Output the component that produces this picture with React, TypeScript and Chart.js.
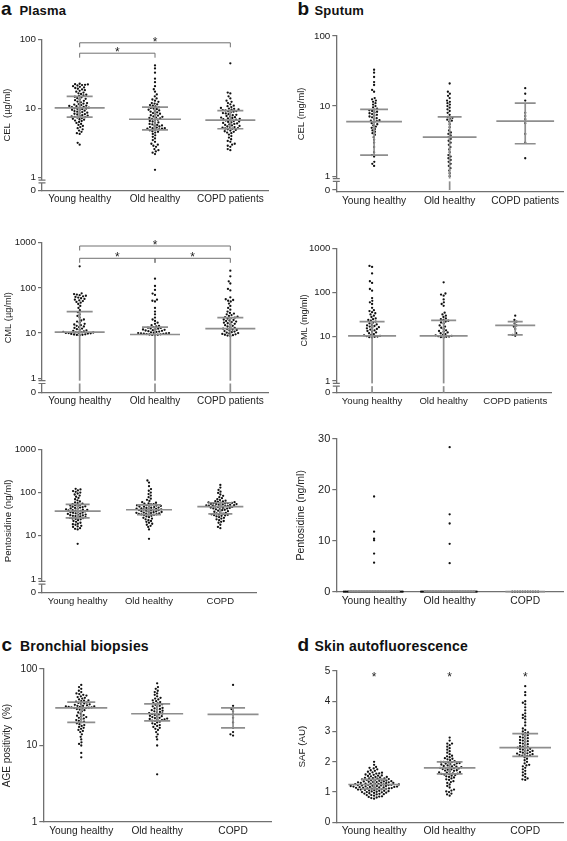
import React, { useEffect, useRef } from "react";
import { Chart, registerables } from "chart.js";

Chart.register(...registerables);

const FONT = '"Liberation Sans", Arial, Helvetica, sans-serif';
const AXIS = "#707070";
const BAR = "#8e8e8e";
const DOT = "#111111";
const TXT = "#222222";

// ---------- categories ----------
const groupsLong = ["Young healthy", "Old healthy", "COPD patients"];
const groupsShort = ["Young healthy", "Old healthy", "COPD"];

// ---------- a: Plasma CEL (µg/ml) ----------
const plasmaCelYoung = [22.8, 22.5, 22.3, 22, 21.8, 21.5, 21, 20.6, 20.2, 19.8, 19.3, 18.9, 18.4, 18, 17.5, 17, 16.6, 16.2, 15.8, 15.5, 15.2,
  14.8, 14.5, 14.1, 13.8, 13.5, 13.2, 12.9, 12.6, 12.3, 12, 11.8, 11.6, 11.4, 11.2, 11, 10.9, 10.8, 10.6, 10.5, 10.4, 10.3,
  10.1, 10, 9.9, 9.8, 9.6, 9.5, 9.3, 9.2, 9, 8.9, 8.7, 8.6, 8.4, 8.3, 8.2, 8, 7.9, 7.8, 7.7, 7.6, 7.5,
  7.4, 7.3, 7.1, 7, 6.9, 6.7, 6.6, 6.4, 6.2, 6, 5.8, 5.6, 5.4, 5.2, 5, 4.8, 4.6, 4.4, 4.3, 3.2, 3.0];
const plasmaCelOld = [42, 38, 33, 27, 24, 21, 19, 17.5, 16, 15, 14, 13.5, 13, 12.5, 12, 11.8, 11.5, 11.2, 11, 10.7,
  10.4, 10.2, 10, 9.8, 9.6, 9.4, 9.2, 9, 8.8, 8.6, 8.4, 8.2, 8, 7.9, 7.7, 7.6, 7.4, 7.3, 7.2, 7.1,
  6.9, 6.8, 6.6, 6.5, 6.3, 6.2, 6, 5.9, 5.8, 5.7, 5.6, 5.5, 5.4, 5.3, 5.2, 5.2, 5.1, 5.1, 5, 4.95,
  4.85, 4.7, 4.6, 4.5, 4.3, 4.1, 3.9, 3.7, 3.5, 3.3, 3.1, 3, 2.9, 2.8, 2.6, 2.5, 2.4, 2.3, 2.2, 1.3];
const plasmaCelCopd = [45, 17, 16.5, 15, 14, 13, 12.5, 12, 11.5, 11, 10.8, 10.5, 10.2, 10, 9.9, 9.7, 9.6, 9.5, 9.4,
  9.2, 9.1, 9, 8.8, 8.6, 8.5, 8.3, 8.1, 8, 7.8, 7.7, 7.5, 7.4, 7.3, 7.2, 7.1, 7, 6.9, 6.85,
  6.7, 6.6, 6.5, 6.4, 6.3, 6.2, 6.1, 6, 5.9, 5.8, 5.7, 5.6, 5.5, 5.4, 5.35, 5.3, 5.2, 5.15, 5.1,
  5, 4.9, 4.8, 4.7, 4.6, 4.5, 4.4, 4.2, 4, 3.8, 3.6, 3.4, 3.3, 3.1, 3, 2.9, 2.8, 2.6, 2.5];
const plasmaCelMedian = [10.2, 7.0, 6.8];
const plasmaCelQ1 = [7.5, 4.9, 5.1];
const plasmaCelQ3 = [15, 10.5, 9.3];
const plasmaCelTicks = [0, 1, 10, 100];
const plasmaCelBrackets = [{ from: 0, to: 2, y: 89 }, { from: 0, to: 1, y: 63 }];

// ---------- a: Plasma CML (µg/ml) ----------
const plasmaCmlYoung = [300, 76, 73, 71, 69, 67, 65, 63, 61, 59, 57, 55, 53, 51, 49, 47, 44, 40, 36, 32,
  29, 26, 24, 22, 20, 19, 18, 17, 16, 15.5, 15, 14.5, 14, 13.5, 13, 12.6, 12.2, 11.8, 11.5, 11.2, 10.9, 10.6,
  10.5, 10.4, 10.3, 10.2, 10.1, 10, 9.9, 9.8, 9.6, 9.4, 9.3, 9.2, 9.1, 9.0];
const plasmaCmlOld = [160, 110, 90, 75, 70, 55, 52, 50, 36, 30, 26, 22, 20, 18.5, 17, 16, 15, 14.5, 14, 13.5,
  13.2, 13, 12.7, 12.5, 12.2, 12, 11.8, 11.6, 11.4, 11.2, 11, 10.8, 10.6, 10.4, 10.2, 10, 10, 9.9, 9.8, 9.7,
  9.6, 9.5, 9.4, 9.3, 9.2, 9.1, 9];
const plasmaCmlCopd = [240, 180, 140, 125, 95, 88, 62, 56, 54, 52, 50, 45, 40, 36, 33, 30, 28, 27, 26, 25, 24, 23,
  22.5, 22, 21.5, 21, 20, 19.5, 19, 18.5, 18, 17.5, 17, 16.5, 16, 15.5, 15, 14.5, 14, 13.5, 13, 12.5, 12.2, 12,
  11.7, 11.4, 11.1, 10.8, 10.5, 10.2, 10, 9.8, 9.6, 9.4, 9.2, 9, 8.8, 8.6];
const plasmaCmlMedian = [10.5, 9.3, 12.5];
const plasmaCmlQ1 = [0, 0, 0];
const plasmaCmlQ3 = [30, 13.5, 22];
const plasmaCmlTicks = [0, 1, 10, 100, 1000];
const plasmaCmlBrackets = [{ from: 0, to: 2, y: 845 }, { from: 0, to: 1, y: 452 }, { from: 1, to: 2, y: 452 }];

// ---------- a: Plasma pentosidine (ng/ml) ----------
const plasmaPentYoung = [122, 118, 112, 108, 104, 100, 95, 90, 85, 80, 75, 70, 66, 62, 59, 57, 55, 54,
  52, 51, 50, 49, 48, 47, 46, 45, 44, 43, 42, 41, 40, 39.5, 39, 38.5, 38, 37.5,
  36.5, 36, 35, 34.5, 34, 33, 32.5, 32, 31, 30.5, 30, 29.5, 29, 28.5, 28, 27, 26.5, 26,
  25.5, 25, 24.5, 24, 23, 22, 21, 20, 19, 18.5, 18, 17, 16.5, 16, 15, 14.5, 14, 6.5];
const plasmaPentOld = [190, 170, 140, 120, 110, 100, 92, 85, 78, 72, 68, 64, 60, 58, 56, 55, 54, 53,
  51, 50.5, 50, 49, 48, 47.5, 47, 46, 45, 44.5, 44, 43, 42.5, 42, 41.5, 41, 40.5, 40.2,
  39.5, 39, 38.5, 38, 37, 36.5, 36, 35.5, 35, 34.5, 34, 33.5, 33, 32.5, 32, 31.5, 31.2, 31,
  30.5, 30, 29, 28, 27, 26, 25, 24, 23, 22, 21, 20, 19, 18, 17, 16, 14, 8.5];
const plasmaPentCopd = [150, 130, 115, 105, 98, 90, 84, 78, 74, 70, 67, 65, 63, 62, 61, 60, 59, 58.5,
  57.5, 57, 56.5, 56, 55, 54.5, 54, 53, 52.5, 52, 51, 50.5, 50, 49.5, 49, 48.5, 48, 47.5,
  46.5, 46, 45, 44.5, 44, 43, 42.5, 42, 41, 40, 39, 38, 37, 36, 35, 34, 33, 32.5,
  31.5, 31, 30.5, 30, 29.5, 29, 28, 27, 26, 25, 24, 23, 22, 21, 20, 18, 16, 15];
const plasmaPentMedian = [37, 40, 47];
const plasmaPentQ1 = [26, 31, 32];
const plasmaPentQ3 = [53, 52, 58];
const plasmaPentTicks = [0, 1, 10, 100, 1000];

// ---------- b: Sputum CEL (mg/ml) ----------
const sputumCelYoung = [33, 30, 26, 22, 20, 17, 16, 13, 12.5, 12, 11.5, 11, 10.5, 10, 9.6, 9.2,
  8.9, 8.7, 8.5, 8.3, 8.1, 7.9, 7.7, 7.5, 7.3, 7.1, 6.9, 6.7, 6.5, 6.3, 6.2, 6.1,
  5.9, 5.7, 5.5, 5.3, 5.1, 4.9, 4.7, 4.5, 4.3, 4.1, 3.9, 3.6, 3.3, 3, 2.6, 2.2,
  2.0, 1.9, 1.6, 1.5, 1.4];
const sputumCelOld = [21, 16, 15, 14, 13, 12, 11.5, 11, 10.5, 10, 9.5, 9, 8.5, 8, 7.5, 7, 6.8, 6.6, 6.4, 6.2, 6,
  5.5, 5, 4.5, 4.2, 4, 3.8, 3.6, 3.4, 3.2, 3, 2.8, 2.6, 2.4, 2.2, 2, 1.9, 1.8, 1.7, 1.6, 1.5, 1.4, 1.3, 1.2, 1.1, 1.0];
const sputumCelCopd = [18, 15, 12, 8, 7.2, 6.5, 5.7, 4, 3, 1.8];
const sputumCelMedian = [6, 3.6, 6.1];
const sputumCelQ1 = [2, 0, 2.9];
const sputumCelQ3 = [9, 7, 11];
const sputumCelTicks = [0, 1, 10, 100];

// ---------- b: Sputum CML (mg/ml) ----------
const sputumCmlYoung = [400, 380, 270, 180, 165, 120, 110, 75, 65, 60, 55, 45, 40, 38, 36, 34, 32, 30, 28, 26, 25,
  24, 23, 22, 21, 20, 19, 18.5, 18, 17.5, 17, 16.5, 16, 15.5, 15, 14.5, 14, 13.5, 13, 12.5, 12, 11.5, 11,
  10.8, 10.5, 10.3, 10.1, 10, 9.8, 9.6];
const sputumCmlOld = [170, 95, 90, 85, 70, 60, 55, 50, 35, 32, 30, 28, 26, 25, 24, 23, 22, 21, 20, 18, 17, 16, 15,
  14, 13.5, 13, 12.5, 12, 11.5, 11, 10.8, 10.5, 10.3, 10.1, 10, 9.8, 9.6];
const sputumCmlCopd = [30, 24, 22, 20, 18, 17, 15, 12, 11, 10.5];
const sputumCmlMedian = [10.5, 10.5, 18];
const sputumCmlQ1 = [0, 0, 11];
const sputumCmlQ3 = [22, 23.5, 22];
const sputumCmlTicks = [0, 1, 10, 100, 1000];

// ---------- b: Sputum pentosidine (ng/ml) ----------
const sputumPentYoung = [18.7, 11.8, 10.4, 10.1, 7.5, 5.7,
  0, 0, 0, 0, 0, 0, 0, 0, 0, 0, 0, 0, 0, 0, 0, 0, 0, 0, 0, 0, 0, 0, 0, 0, 0, 0, 0, 0, 0, 0, 0, 0, 0, 0, 0, 0, 0, 0];
const sputumPentOld = [28.4, 15.2, 13.4, 9.4, 5.6,
  0, 0, 0, 0, 0, 0, 0, 0, 0, 0, 0, 0, 0, 0, 0, 0, 0, 0, 0, 0, 0, 0, 0, 0, 0, 0, 0, 0, 0, 0, 0, 0, 0, 0, 0, 0];
const sputumPentCopd = [0, 0, 0, 0, 0, 0, 0, 0, 0, 0, 0];
const sputumPentMedian = [0, 0, 0];
const sputumPentQ1 = [0, 0, 0];
const sputumPentQ3 = [0, 0, 0];
const sputumPentTicks = [0, 10, 20, 30];

// ---------- c: Bronchial biopsies AGE positivity (%) ----------
const biopsyYoung = [62, 58, 55, 52, 50, 48, 47, 46, 45, 44, 43, 42, 41, 40, 39, 38.5, 38, 37.5,
  36.5, 36, 35.5, 35, 34.5, 34, 33.5, 33, 33, 32.5, 32.5, 32, 32, 31.5, 31.5, 31.2, 31, 31,
  30.5, 30, 29.5, 29, 28, 27, 26, 25, 24.5, 24, 23.5, 23, 22.5, 22, 21.5, 21, 20.5, 20.2,
  19.5, 19, 18.5, 18, 17.5, 17, 16.5, 16, 15.5, 15, 14, 13, 12, 11, 10.5, 10, 8, 7];
const biopsyOld = [65, 58, 55, 52, 50, 48, 46, 44, 42, 41, 40, 39, 38, 37, 36, 35.5,
  34.5, 34, 33, 32.5, 32, 31, 30.5, 30, 29.5, 29, 28.5, 28, 27.5, 27, 26.5, 26.2,
  25.8, 25.5, 25, 24.5, 24.2, 24, 23.5, 23, 22.8, 22.5, 22.2, 22, 21.8, 21.5, 21.2, 21,
  20.5, 20, 19.5, 19, 18.5, 18, 17.5, 17, 16.5, 16, 15, 14, 13, 12, 10, 4.2];
const biopsyCopd = [62, 33, 30, 28, 25.5, 23, 20, 17, 15, 14, 13.5];
const biopsyMedian = [31, 26, 25.5];
const biopsyQ1 = [20, 21, 17];
const biopsyQ3 = [37, 35, 31];
const biopsyTicks = [1, 10, 100];

// ---------- d: Skin autofluorescence SAF (AU) ----------
const safYoung = [0.78, 0.8, 0.82, 0.84, 0.85, 0.86, 0.88, 0.9, 0.9, 0.92, 0.93, 0.94, 0.95,
  0.96, 0.97, 0.98, 0.99, 1.0, 1.0, 1.01, 1.02, 1.03, 1.04, 1.04, 1.05,
  1.06, 1.07, 1.08, 1.08, 1.09, 1.1, 1.1, 1.11, 1.12, 1.12, 1.13, 1.14, 1.14, 1.15, 1.15, 1.15,
  1.16, 1.17, 1.17, 1.18, 1.18, 1.19, 1.2, 1.2, 1.2, 1.21, 1.22, 1.22, 1.23, 1.23, 1.24, 1.24, 1.25, 1.25,
  1.26, 1.26, 1.27, 1.28, 1.28, 1.29, 1.3, 1.3, 1.31, 1.32, 1.32, 1.33, 1.33, 1.34, 1.35, 1.35,
  1.36, 1.37, 1.38, 1.39, 1.4, 1.4, 1.41, 1.42, 1.43, 1.44, 1.45, 1.45,
  1.46, 1.47, 1.48, 1.5, 1.5, 1.52, 1.53, 1.54, 1.55, 1.57, 1.58, 1.6, 1.61, 1.62, 1.64, 1.65,
  1.67, 1.7, 1.72, 1.75, 1.78, 1.8, 1.83, 1.9, 2.0];
const safOld = [0.88, 0.92, 0.95, 1.0, 1.02, 1.05, 1.08,
  1.15, 1.2, 1.25, 1.3, 1.33, 1.36, 1.4, 1.42, 1.45, 1.48, 1.5, 1.52, 1.54, 1.56, 1.58, 1.59,
  1.6, 1.61, 1.62, 1.64, 1.65, 1.66, 1.68, 1.7, 1.71, 1.72, 1.74, 1.75, 1.76, 1.78, 1.79, 1.8, 1.8,
  1.81, 1.82, 1.84, 1.85, 1.86, 1.88, 1.9, 1.91, 1.92, 1.94, 1.95, 1.96, 1.98, 1.99, 2.0, 2.0,
  2.02, 2.05, 2.08, 2.1, 2.12, 2.15, 2.18, 2.2, 2.25, 2.3, 2.35, 2.4, 2.45, 2.5, 2.55, 2.6, 2.6, 2.7, 2.8];
const safCopd = [4.5, 4.3, 4.2, 4.0, 3.95, 3.9, 3.8, 3.7, 3.6, 3.55, 3.5, 3.45, 3.4, 3.3, 3.2, 3.1, 3.05, 3.0, 2.97, 2.95,
  2.9, 2.88, 2.85, 2.82, 2.8, 2.78, 2.75, 2.72, 2.7, 2.68, 2.65, 2.62, 2.6, 2.58, 2.55, 2.52, 2.5, 2.48, 2.47,
  2.45, 2.43, 2.42, 2.4, 2.38, 2.36, 2.35, 2.33, 2.32, 2.3, 2.28, 2.27, 2.25, 2.24, 2.22, 2.21, 2.2, 2.19,
  2.15, 2.1, 2.05, 2.0, 1.95, 1.9, 1.88, 1.85, 1.8, 1.75, 1.7, 1.65, 1.6, 1.55, 1.5, 1.45, 1.42, 1.4];
const safMedian = [1.25, 1.8, 2.47];
const safQ1 = [1.1, 1.6, 2.18];
const safQ3 = [1.42, 2.0, 2.93];
const safTicks = [0, 1, 2, 3, 4, 5];
const safStars = [{ x: 0, y: 4.9 }, { x: 1, y: 4.9 }, { x: 2, y: 4.9 }];

// ---------- panel definitions (layout/style only) ----------
type Box = { L: number; T: number; W: number; H: number };
type Panel = {
  groups: number[][];
  labels: string[];
  median: number[];
  q1: number[];
  q3: number[];
  scale: "logbreak" | "log" | "linear";
  min: number;
  max: number;
  zeroDec?: number;
  ticks: number[];
  yTitle: string;
  box: Box;
  axisX: number;
  top: number;
  bottom: number;
  right: number;
  titleCX: number;
  titleSize: number;
  tickSize: number;
  labelSize: number;
  medW: number[];
  iqrW: number[];
  dotGap: number[];
  brackets?: { from: number; to: number; y: number }[];
  stars?: { x: number; y: number }[];
};

const panels: Panel[] = [
  {
    groups: [plasmaCelYoung, plasmaCelOld, plasmaCelCopd], labels: groupsLong,
    median: plasmaCelMedian, q1: plasmaCelQ1, q3: plasmaCelQ3,
    scale: "logbreak", min: 0, max: 100, zeroDec: 0.187, ticks: plasmaCelTicks, yTitle: "CEL  (µg/ml)",
    box: { L: 0, T: 20, W: 283, H: 195 }, axisX: 42, top: 39.3, bottom: 190.7, right: 268,
    titleCX: 7, titleSize: 9.4, tickSize: 9.8, labelSize: 10,
    medW: [25, 26, 25], iqrW: [13, 13, 13], dotGap: [2.7, 2.7, 2.7], brackets: plasmaCelBrackets,
  },
  {
    groups: [plasmaCmlYoung, plasmaCmlOld, plasmaCmlCopd], labels: groupsLong,
    median: plasmaCmlMedian, q1: plasmaCmlQ1, q3: plasmaCmlQ3,
    scale: "logbreak", min: 0, max: 1000, zeroDec: 0.319, ticks: plasmaCmlTicks, yTitle: "CML (µg/ml)",
    box: { L: 0, T: 215, W: 283, H: 195 }, axisX: 42, top: 242.7, bottom: 392.7, right: 268,
    titleCX: 8, titleSize: 9.3, tickSize: 9.6, labelSize: 10,
    medW: [25, 25, 25], iqrW: [13, 13, 13], dotGap: [2.7, 2.7, 2.7], brackets: plasmaCmlBrackets,
  },
  {
    groups: [plasmaPentYoung, plasmaPentOld, plasmaPentCopd], labels: groupsShort,
    median: plasmaPentMedian, q1: plasmaPentQ1, q3: plasmaPentQ3,
    scale: "logbreak", min: 0, max: 1000, zeroDec: 0.307, ticks: plasmaPentTicks, yTitle: "Pentosidine (ng/ml)",
    box: { L: 0, T: 415, W: 283, H: 195 }, axisX: 42, top: 449.3, bottom: 592.3, right: 256,
    titleCX: 8, titleSize: 9.6, tickSize: 9.6, labelSize: 9.5,
    medW: [23, 23, 23], iqrW: [12, 12, 12], dotGap: [2.6, 2.6, 2.6],
  },
  {
    groups: [sputumCelYoung, sputumCelOld, sputumCelCopd], labels: groupsLong,
    median: sputumCelMedian, q1: sputumCelQ1, q3: sputumCelQ3,
    scale: "logbreak", min: 0, max: 100, zeroDec: 0.198, ticks: sputumCelTicks, yTitle: "CEL (mg/ml)",
    box: { L: 283, T: 20, W: 284, H: 195 }, axisX: 336.3, top: 36, bottom: 191.7, right: 564,
    titleCX: 301.3, titleSize: 9.4, tickSize: 9.8, labelSize: 10.2,
    medW: [28, 27, 29], iqrW: [14, 12, 10.5], dotGap: [2.7, 2.7, 2.7],
  },
  {
    groups: [sputumCmlYoung, sputumCmlOld, sputumCmlCopd], labels: groupsLong,
    median: sputumCmlMedian, q1: sputumCmlQ1, q3: sputumCmlQ3,
    scale: "logbreak", min: 0, max: 1000, zeroDec: 0.265, ticks: sputumCmlTicks, yTitle: "CML (mg/ml)",
    box: { L: 283, T: 215, W: 284, H: 195 }, axisX: 336.3, top: 248.3, bottom: 392.7, right: 551,
    titleCX: 304.7, titleSize: 9, tickSize: 9.6, labelSize: 9.6,
    medW: [24, 24, 20], iqrW: [12.5, 12.5, 7.5], dotGap: [2.7, 2.7, 2.7],
  },
  {
    groups: [sputumPentYoung, sputumPentOld, sputumPentCopd], labels: groupsShort,
    median: sputumPentMedian, q1: sputumPentQ1, q3: sputumPentQ3,
    scale: "linear", min: 0, max: 30, ticks: sputumPentTicks, yTitle: "Pentosidine (ng/ml)",
    box: { L: 283, T: 415, W: 284, H: 195 }, axisX: 336.3, top: 439, bottom: 591.7, right: 565,
    titleCX: 301.3, titleSize: 10.5, tickSize: 11, labelSize: 10.3,
    medW: [26, 26, 20], iqrW: [13, 13, 10], dotGap: [1.45, 1.45, 2.5],
  },
  {
    groups: [biopsyYoung, biopsyOld, biopsyCopd], labels: groupsShort,
    median: biopsyMedian, q1: biopsyQ1, q3: biopsyQ3,
    scale: "log", min: 1, max: 100, ticks: biopsyTicks, yTitle: "AGE positivity  (%)",
    box: { L: 0, T: 655, W: 283, H: 186 }, axisX: 43.3, top: 669, bottom: 822, right: 271,
    titleCX: 7.5, titleSize: 10, tickSize: 10, labelSize: 10.2,
    medW: [26, 26, 25.5], iqrW: [14, 13, 12], dotGap: [2.7, 2.7, 2.7],
  },
  {
    groups: [safYoung, safOld, safCopd], labels: groupsShort,
    median: safMedian, q1: safQ1, q3: safQ3,
    scale: "linear", min: 0, max: 5, ticks: safTicks, yTitle: "SAF (AU)",
    box: { L: 283, T: 655, W: 284, H: 186 }, axisX: 336.3, top: 671, bottom: 822.3, right: 565,
    titleCX: 302, titleSize: 9.8, tickSize: 10, labelSize: 10.3,
    medW: [26, 26, 26], iqrW: [13, 13, 13], dotGap: [2.7, 2.7, 2.7], stars: safStars,
  },
];

// ---------- helpers ----------
function swarmOffsets(vals: number[], toPx: (v: number) => number, gap: number): number[] {
  const order = vals.map((_, i) => i).sort((a, b) => toPx(vals[a]) - toPx(vals[b]) || a - b);
  const placed: { x: number; y: number }[] = [];
  const out = vals.map(() => 0);
  const g2 = gap * gap;
  for (const i of order) {
    const y = toPx(vals[i]);
    const near = placed.filter((q) => Math.abs(q.y - y) < gap);
    let x = 0;
    for (let k = 0; k < 4000; k++) {
      const c = (k % 2 === 0 ? 1 : -1) * Math.ceil(k / 2) * 0.2;
      if (near.every((q) => (q.x - c) * (q.x - c) + (q.y - y) * (q.y - y) >= g2)) {
        x = c;
        break;
      }
    }
    placed.push({ x, y });
    out[i] = x;
  }
  return out;
}

function buildConfig(p: Panel): any {
  const isBreak = p.scale === "logbreak";
  const isLog = p.scale !== "linear";
  const lo = isBreak ? Math.pow(10, -(p.zeroDec as number)) : p.min;
  const span = isLog ? Math.log10(p.max) - Math.log10(lo) : p.max - lo;
  const pxPerUnit = (p.bottom - p.top) / span;
  const toPx = (v: number) => (isLog ? Math.log10(Math.max(v, lo)) * pxPerUnit : v * pxPerUnit);
  const ax = (v: number) => (isLog ? Math.max(v, lo) : v);
  const pxPerCat = (p.right - p.axisX) / 3;

  const seg: any[] = [];
  p.median.forEach((m, i) => {
    const mw = p.medW[i] / pxPerCat;
    const qw = p.iqrW[i] / pxPerCat;
    seg.push({ x: i - mw, y: ax(m) }, { x: i + mw, y: ax(m) }, { x: i, y: null });
    seg.push({ x: i - qw, y: ax(p.q3[i]) }, { x: i + qw, y: ax(p.q3[i]) }, { x: i, y: null });
    if (p.q1[i] > 0) seg.push({ x: i - qw, y: ax(p.q1[i]) }, { x: i + qw, y: ax(p.q1[i]) }, { x: i, y: null });
    seg.push({ x: i, y: ax(p.q1[i]) }, { x: i, y: ax(p.q3[i]) }, { x: i, y: null });
  });

  const datasets: any[] = [
    {
      type: "line",
      data: seg,
      borderColor: BAR,
      borderWidth: 1.7,
      pointRadius: 0,
      spanGaps: false,
      showLine: true,
      clip: false,
      order: 0,
    },
  ];
  p.groups.forEach((vals, i) => {
    const off = swarmOffsets(vals, toPx, p.dotGap[i]);
    datasets.push({
      type: "scatter",
      data: vals.map((v, k) => ({ x: i + off[k] / pxPerCat, y: ax(v) })),
      pointRadius: 1.15,
      pointBackgroundColor: DOT,
      pointBorderWidth: 0,
      borderWidth: 0,
      clip: false,
      order: 1,
    });
  });

  const breakPlugin = {
    id: "axisBreak",
    afterDatasetsDraw(chart: any) {
      if (!isBreak) return;
      const ctx = chart.ctx;
      const y = chart.scales.y;
      const x0 = chart.chartArea.left;
      const a = y.getPixelForValue(1) + 2.4;
      const b = a + 2.8;
      ctx.save();
      ctx.fillStyle = "#ffffff";
      ctx.fillRect(x0 - 2, a, chart.chartArea.right - x0 + 4, b - a);
      ctx.strokeStyle = AXIS;
      ctx.lineWidth = 1.2;
      ctx.beginPath();
      ctx.moveTo(x0 - 3.5, a);
      ctx.lineTo(x0 + 3.5, a);
      ctx.moveTo(x0 - 3.5, b);
      ctx.lineTo(x0 + 3.5, b);
      ctx.stroke();
      ctx.restore();
    },
  };

  const sigPlugin = {
    id: "sigMarks",
    afterDatasetsDraw(chart: any) {
      const ctx = chart.ctx;
      const xs = chart.scales.x;
      const ys = chart.scales.y;
      ctx.save();
      ctx.strokeStyle = AXIS;
      ctx.lineWidth = 1;
      ctx.fillStyle = TXT;
      ctx.font = `12px ${FONT}`;
      ctx.textAlign = "center";
      ctx.textBaseline = "alphabetic";
      (p.brackets || []).forEach((br) => {
        const x1 = xs.getPixelForValue(br.from);
        const x2 = xs.getPixelForValue(br.to);
        const y = ys.getPixelForValue(br.y);
        ctx.beginPath();
        ctx.moveTo(x1, y + 4.5);
        ctx.lineTo(x1, y);
        ctx.lineTo(x2, y);
        ctx.lineTo(x2, y + 4.5);
        ctx.stroke();
        ctx.fillText("*", (x1 + x2) / 2, y + 3);
      });
      (p.stars || []).forEach((s) => {
        const x = xs.getPixelForValue(s.x);
        const y = ys.getPixelForValue(s.y);
        ctx.fillText("*", x, y + 7);
      });
      ctx.restore();
    },
  };

  return {
    type: "scatter",
    data: { datasets },
    options: {
      animation: false,
      responsive: false,
      maintainAspectRatio: false,
      events: [],
      layout: { padding: { top: p.top - p.box.T, right: p.box.L + p.box.W - p.right, left: 0, bottom: 0 } },
      plugins: { legend: { display: false }, tooltip: { enabled: false } },
      scales: {
        x: {
          type: "linear",
          min: -0.5,
          max: 2.5,
          afterBuildTicks: (s: any) => {
            s.ticks = p.labels.map((_, i) => ({ value: i }));
          },
          afterFit: (s: any) => {
            s.height = p.box.T + p.box.H - p.bottom;
          },
          ticks: {
            callback: (v: any) => p.labels[Math.round(v)] ?? "",
            font: { family: FONT, size: p.labelSize },
            color: TXT,
            padding: 3,
            maxRotation: 0,
            autoSkip: false,
          },
          grid: { display: true, drawOnChartArea: false, drawTicks: false },
          border: { display: true, color: AXIS, width: 1.3 },
        },
        y: {
          type: isLog ? "logarithmic" : "linear",
          min: lo,
          max: p.max,
          afterBuildTicks: (s: any) => {
            s.ticks = p.ticks.map((v) => ({ value: isBreak && v === 0 ? lo : v }));
          },
          afterFit: (s: any) => {
            s.width = p.axisX - p.box.L;
          },
          ticks: {
            callback: (v: any) => (isBreak && Math.abs(v - lo) < 1e-9 ? "0" : String(v)),
            font: { family: FONT, size: p.tickSize },
            color: TXT,
            padding: 2,
            autoSkip: false,
          },
          grid: { display: true, drawOnChartArea: false, drawTicks: true, tickLength: 4, color: AXIS, lineWidth: 1.2 },
          border: { display: true, color: AXIS, width: 1.3 },
          title: {
            display: true,
            text: p.yTitle,
            color: TXT,
            font: { family: FONT, size: p.titleSize },
            padding: { top: p.titleCX - p.box.L - p.titleSize * 0.6, bottom: 0 },
          },
        },
      },
    },
    plugins: [breakPlugin, sigPlugin],
  };
}

function PanelChart({ p }: { p: Panel }) {
  const ref = useRef<HTMLCanvasElement>(null);
  useEffect(() => {
    if (!ref.current) return;
    const chart = new Chart(ref.current, buildConfig(p));
    return () => chart.destroy();
  }, [p]);
  return (
    <canvas
      ref={ref}
      width={p.box.W}
      height={p.box.H}
      style={{ position: "absolute", left: p.box.L, top: p.box.T, width: p.box.W, height: p.box.H }}
    />
  );
}

function Heading({ letter, text, x, tx, baseline, size }: { letter: string; text: string; x: number; tx: number; baseline: number; size: number }) {
  const big = 19;
  return (
    <>
      <div style={{ position: "absolute", left: x, top: baseline - 0.8465 * big, font: `bold ${big}px ${FONT}`, lineHeight: `${big}px`, color: "#111", whiteSpace: "nowrap" }}>{letter}</div>
      <div style={{ position: "absolute", left: tx, top: baseline - 0.8465 * size, font: `bold ${size}px ${FONT}`, lineHeight: `${size}px`, color: "#111", whiteSpace: "nowrap", letterSpacing: "0.2px" }}>{text}</div>
    </>
  );
}

export default function App() {
  return (
    <div style={{ position: "absolute", left: 0, top: 0, width: 567, height: 841, background: "#ffffff", overflow: "hidden", fontFamily: FONT }}>
      <Heading letter="a" text="Plasma" x={1} tx={19.5} baseline={15} size={13} />
      <Heading letter="b" text="Sputum" x={297.5} tx={314.5} baseline={15} size={13} />
      <Heading letter="c" text="Bronchial biopsies" x={1.5} tx={20} baseline={650.7} size={14} />
      <Heading letter="d" text="Skin autofluorescence" x={297.5} tx={314.5} baseline={650.7} size={14} />
      {panels.map((p, i) => (
        <PanelChart key={i} p={p} />
      ))}
    </div>
  );
}
